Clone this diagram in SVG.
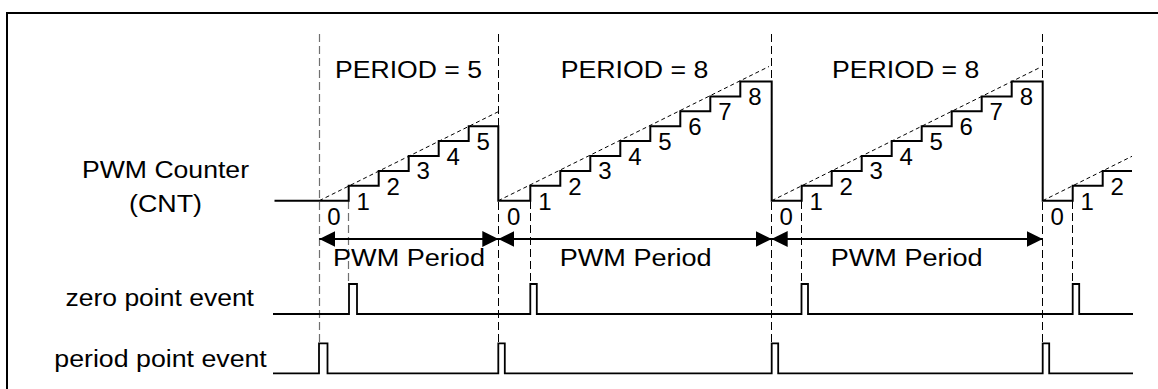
<svg xmlns="http://www.w3.org/2000/svg" width="1158" height="389" viewBox="0 0 1158 389">
<style>
  text { font-family: "Liberation Sans", Arial, sans-serif; font-size: 23.5px; fill: #000; }
  .num { text-anchor: middle; font-size: 24px; }
  .solid { fill: none; stroke: #000; stroke-width: 2; }
  .sig { fill: none; stroke: #000; stroke-width: 1.8; }
  .vdash { fill: none; stroke: #000; stroke-width: 1; stroke-dasharray: 8 4; }
  .vdash1 { fill: none; stroke: #707070; stroke-width: 1.2; stroke-dasharray: 8 4; }
  .ddash { fill: none; stroke: #000; stroke-width: 1; stroke-dasharray: 4 3; }
  .arrow { fill: none; stroke: #000; stroke-width: 2; marker-start: url(#ah); marker-end: url(#ah); }
</style>
<defs>
  <marker id="ah" markerUnits="userSpaceOnUse" viewBox="0 0 16 16" refX="16" refY="8" markerWidth="16" markerHeight="16" orient="auto-start-reverse">
    <path d="M0,0 L16,8 L0,16 z" fill="#000"/>
  </marker>
</defs>
<rect width="1158" height="389" fill="#fff"/>
<path id="frame" d="M7,389 V13 H1158" fill="none" stroke="#000" stroke-width="2"/>

<g id="guides">
  <line class="vdash1" x1="319.5" y1="34" x2="319.5" y2="343"/>
  <line class="vdash1" x1="348.5" y1="201" x2="348.5" y2="284"/>
  <line class="vdash" x1="498.5" y1="34" x2="498.5" y2="343"/>
  <line class="vdash" x1="530.5" y1="201" x2="530.5" y2="284"/>
  <line class="vdash" x1="771.5" y1="34" x2="771.5" y2="343"/>
  <line class="vdash" x1="801.5" y1="201" x2="801.5" y2="284"/>
  <line class="vdash" x1="1042.5" y1="34" x2="1042.5" y2="343"/>
  <line class="vdash" x1="1072.5" y1="201" x2="1072.5" y2="284"/>
  <line class="ddash" x1="319.3" y1="200.7" x2="498.3" y2="111.7"/>
  <line class="ddash" x1="498.3" y1="200.7" x2="769" y2="66.5"/>
  <line class="ddash" x1="771.7" y1="200.7" x2="1040" y2="67.5"/>
  <line class="ddash" x1="1042.7" y1="200.7" x2="1132" y2="156.3"/>
</g>

<g id="labels">
  <text x="82" y="178.3" textLength="167" lengthAdjust="spacingAndGlyphs">PWM Counter</text>
  <text x="129" y="211.5" textLength="73" lengthAdjust="spacingAndGlyphs">(CNT)</text>
  <text x="65.5" y="306" textLength="188.5" lengthAdjust="spacingAndGlyphs">zero point event</text>
  <text x="54.3" y="366.5" textLength="212.5" lengthAdjust="spacingAndGlyphs">period point event</text>
</g>

<g id="period-titles">
  <text x="335" y="78.3" textLength="147" lengthAdjust="spacingAndGlyphs">PERIOD = 5</text>
  <text x="560.7" y="78.3" textLength="147.6" lengthAdjust="spacingAndGlyphs">PERIOD = 8</text>
  <text x="832" y="78.3" textLength="147.3" lengthAdjust="spacingAndGlyphs">PERIOD = 8</text>
</g>

<g id="counter">
  <path class="solid" d="M274.5,200.7 H348.7 V185.8 H378.7 V170.9 H408.7 V156 H438.7 V141.1 H468.7 V126.2 H498.3 V200.7 H530.3 V185.8 H560.3 V170.9 H590.3 V156 H620.3 V141.1 H650.3 V126.2 H680.3 V111.3 H710.3 V96.4 H740.3 V81.5 H771.7 V200.7 H801.7 V185.8 H831.7 V170.9 H861.7 V156 H891.7 V141.1 H921.7 V126.2 H951.7 V111.3 H981.7 V96.4 H1011.7 V81.5 H1042.7 V200.7 H1072.7 V185.8 H1102.7 V170.9 H1132"/>
  <g id="counts-1">
    <text class="num" x="333.9" y="224.6">0</text>
    <text class="num" x="363.3" y="209.5">1</text>
    <text class="num" x="393.3" y="194.5">2</text>
    <text class="num" x="423.3" y="179.4">3</text>
    <text class="num" x="453.3" y="164.5">4</text>
    <text class="num" x="483.3" y="149.5">5</text>
  </g>
  <g id="counts-2">
    <text class="num" x="513.6" y="224.6">0</text>
    <text class="num" x="544.9" y="209.5">1</text>
    <text class="num" x="574.9" y="194.5">2</text>
    <text class="num" x="604.9" y="179.4">3</text>
    <text class="num" x="634.9" y="164.5">4</text>
    <text class="num" x="664.9" y="149.5">5</text>
    <text class="num" x="694.9" y="134.6">6</text>
    <text class="num" x="724.9" y="119.7">7</text>
    <text class="num" x="755" y="104.7">8</text>
  </g>
  <g id="counts-3">
    <text class="num" x="786.3" y="224.6">0</text>
    <text class="num" x="816.3" y="209.5">1</text>
    <text class="num" x="846.3" y="194.5">2</text>
    <text class="num" x="876.3" y="179.4">3</text>
    <text class="num" x="906.3" y="164.5">4</text>
    <text class="num" x="936.3" y="149.5">5</text>
    <text class="num" x="966.3" y="134.6">6</text>
    <text class="num" x="996.3" y="119.7">7</text>
    <text class="num" x="1026.5" y="104.7">8</text>
  </g>
  <g id="counts-4">
    <text class="num" x="1057.3" y="224.6">0</text>
    <text class="num" x="1087.3" y="209.5">1</text>
    <text class="num" x="1117.3" y="194.5">2</text>
  </g>
</g>

<g id="zero-event">
  <path class="sig" d="M273,314 H349 V284 H357 V314 H530.3 V284 H536.8 V314 H801.5 V284 H808 V314 H1072.7 V284 H1079.2 V314 H1133"/>
</g>
<g id="period-event">
  <path class="sig" d="M273,373.3 H319 V343.3 H327.5 V373.3 H498.3 V343.3 H504.8 V373.3 H771.7 V343.3 H778.2 V373.3 H1042.7 V343.3 H1049.2 V373.3 H1133"/>
</g>

<g id="connectors">
  <line class="arrow" x1="319.3" y1="239" x2="498.3" y2="239"/>
  <line class="arrow" x1="498.3" y1="239" x2="771.7" y2="239"/>
  <line class="arrow" x1="771.7" y1="239" x2="1042.7" y2="239"/>
</g>

<g id="period-labels">
  <text x="333" y="266" textLength="152" lengthAdjust="spacingAndGlyphs">PWM Period</text>
  <text x="559.7" y="266" textLength="152" lengthAdjust="spacingAndGlyphs">PWM Period</text>
  <text x="830.7" y="266" textLength="152" lengthAdjust="spacingAndGlyphs">PWM Period</text>
</g>
</svg>
